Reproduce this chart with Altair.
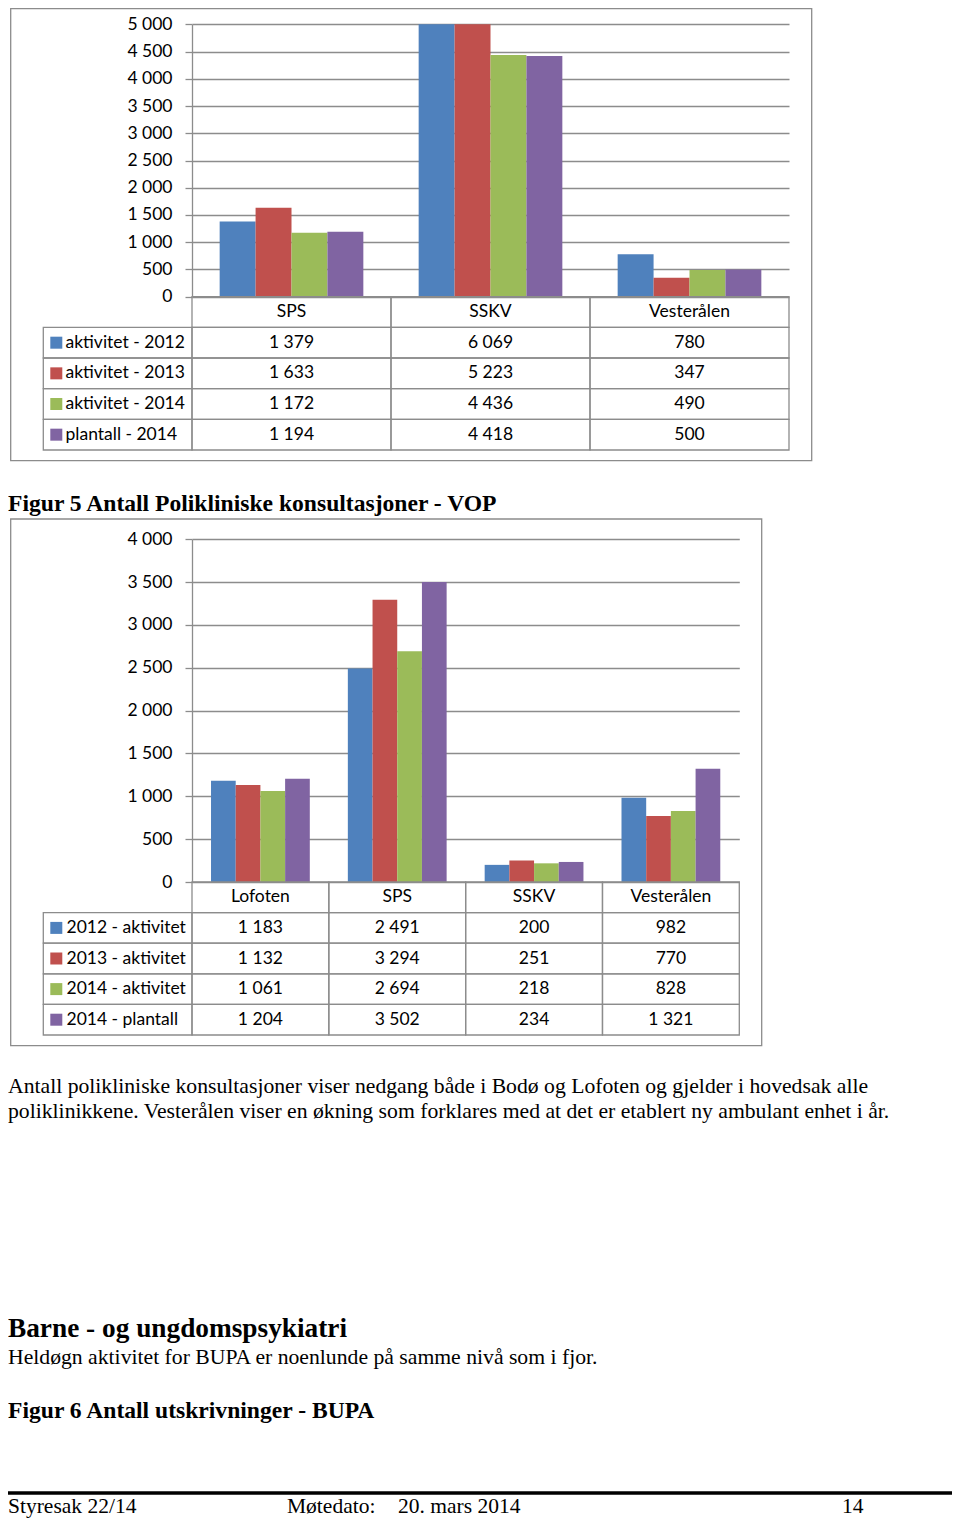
import altair as alt
import pandas as pd

# ---------------- data: top figure ----------------
regions_a = ["SPS", "SSKV", "Vesterålen"]
series_a = ["aktivitet - 2012", "aktivitet - 2013", "aktivitet - 2014", "plantall - 2014"]
a_akt_2012 = [1379, 6069, 780]
a_akt_2013 = [1633, 5223, 347]
a_akt_2014 = [1172, 4436, 490]
a_plan_2014 = [1194, 4418, 500]
yticks_a = [0, 500, 1000, 1500, 2000, 2500, 3000, 3500, 4000, 4500, 5000]

# ---------------- data: Figur 5 ----------------
regions_b = ["Lofoten", "SPS", "SSKV", "Vesterålen"]
series_b = ["2012 - aktivitet", "2013 - aktivitet", "2014 - aktivitet", "2014 - plantall"]
b_akt_2012 = [1183, 2491, 200, 982]
b_akt_2013 = [1132, 3294, 251, 770]
b_akt_2014 = [1061, 2694, 218, 828]
b_plan_2014 = [1204, 3502, 234, 1321]
yticks_b = [0, 500, 1000, 1500, 2000, 2500, 3000, 3500, 4000]

colors = ["#4F81BD", "#C0504D", "#9BBB59", "#8064A2"]

title_fig5 = "Figur 5 Antall Polikliniske konsultasjoner - VOP"
para_lines = [
    "Antall polikliniske konsultasjoner viser nedgang både i Bodø og Lofoten og gjelder i hovedsak alle",
    "poliklinikkene. Vesterålen viser en økning som forklares med at det er etablert ny ambulant enhet i år.",
]
heading_bupa = "Barne - og ungdomspsykiatri"
text_bupa = "Heldøgn aktivitet for BUPA er noenlunde på samme nivå som i fjor."
title_fig6 = "Figur 6 Antall utskrivninger - BUPA"
footer_left = "Styresak 22/14"
footer_mid1 = "Møtedato:"
footer_mid2 = "20. mars 2014"
footer_right = "14"

GRAY = "#8c8c8c"
FONT = "Lato"
FS = 17.5
SERIF = "Liberation Serif"


def fmt(v):
    return f"{v:,}".replace(",", " ")


def figure(regions, series, values, ymax, yticks, g):
    hdr = "__hdr__"
    rows = [hdr] + series
    recs = []
    for s, vals in zip(series, values):
        for r, v in zip(regions, vals):
            recs.append({"region": r, "series": s, "value": v, "row": s, "txt": fmt(v)})
    long = pd.DataFrame(recs)
    head = pd.DataFrame({"region": regions, "row": [hdr] * len(regions), "txt": regions})
    cells = pd.concat([head, long[["region", "row", "txt"]]], ignore_index=True)
    labs = pd.DataFrame({"col": ["label"] * len(series), "row": series, "series": series})

    xs = alt.Scale(domain=regions, range=[g["x0"], g["x1"]], paddingInner=0, paddingOuter=0)
    ys = alt.Scale(domain=[0, ymax], range=[g["y0"], g["y1"]], clamp=True, nice=False, zero=True)
    rs = alt.Scale(domain=rows, range=[g["t0"], g["t1"]], paddingInner=0, paddingOuter=0)
    ls = alt.Scale(domain=["label"], range=[g["l0"], g["x0"]], paddingInner=0, paddingOuter=0)
    sws = alt.Scale(domain=["label"], range=[g["swc"] - 6, g["swc"] + 6], paddingInner=0, paddingOuter=0)
    txs = alt.Scale(domain=["label"], range=[g["txl"] - 1, g["txl"] + 1], paddingInner=0, paddingOuter=0)
    cs = alt.Scale(domain=series, range=colors)

    frame = alt.Chart().mark_rect(filled=False, color=GRAY, strokeWidth=1.3).encode(
        x=alt.value(g["fx0"]), x2=alt.value(g["fx1"]),
        y=alt.value(g["fy0"]), y2=alt.value(g["fy1"]))

    bars = alt.Chart(long).mark_bar().encode(
        x=alt.X("region:N", scale=xs, axis=None),
        xOffset=alt.XOffset("series:N", scale=alt.Scale(domain=series, paddingInner=0, paddingOuter=0.77)),
        y=alt.Y("value:Q", scale=ys, stack=False,
                axis=alt.Axis(orient="left", offset=-g["x0"], values=yticks,
                              labelExpr="replace(format(datum.value, ','), ',', ' ')",
                              grid=True, gridColor=GRAY, gridWidth=1.3,
                              domainColor=GRAY, domainWidth=1.3,
                              tickColor=GRAY, tickWidth=1.3, tickSize=7,
                              labelFont=FONT, labelFontSize=FS, labelColor="black",
                              labelPadding=13, title="")),
        color=alt.Color("series:N", scale=cs, legend=None))

    cell_rects = alt.Chart(cells).mark_rect(filled=False, color=GRAY, strokeWidth=1.3).encode(
        x=alt.X("region:N", scale=xs, axis=None),
        y=alt.Y("row:N", scale=rs, axis=None))
    cell_txt = alt.Chart(cells).mark_text(font=FONT, fontSize=FS, color="black", baseline="middle").encode(
        x=alt.X("region:N", scale=xs, axis=None),
        y=alt.Y("row:N", scale=rs, axis=None),
        text="txt:N")
    lab_rects = alt.Chart(labs).mark_rect(filled=False, color=GRAY, strokeWidth=1.3).encode(
        x=alt.X("col:N", scale=ls, axis=None),
        y=alt.Y("row:N", scale=rs, axis=None))
    swatch = alt.Chart(labs).mark_square(size=144, opacity=1).encode(
        x=alt.X("col:N", scale=sws, axis=None),
        y=alt.Y("row:N", scale=rs, axis=None),
        color=alt.Color("series:N", scale=cs, legend=None))
    lab_txt = alt.Chart(labs).mark_text(font=FONT, fontSize=FS, color="black", align="left", baseline="middle").encode(
        x=alt.X("col:N", scale=txs, axis=None),
        y=alt.Y("row:N", scale=rs, axis=None),
        text="series:N")
    return [frame, bars, cell_rects, cell_txt, lab_rects, swatch, lab_txt]


def text(s, x, y, size, bold=False):
    return alt.Chart().mark_text(
        text=s, align="left", baseline="alphabetic", font=SERIF, fontSize=size,
        fontWeight="bold" if bold else "normal", color="black", lineHeight=25,
    ).encode(x=alt.value(x), y=alt.value(y))


geo_a = dict(x0=184, x1=781, y0=288.7, y1=16.3, t0=288.7, t1=442, l0=35.3,
             fx0=2.7, fx1=803.7, fy0=0.5, fy1=452.7, swc=48.3, txl=57.5)
geo_b = dict(x0=184, x1=731.3, y0=874, y1=531.3, t0=874, t1=1027, l0=35.3,
             fx0=2.7, fx1=753.7, fy0=511, fy1=1037.7, swc=48.3, txl=58.5)

layers = []
layers += figure(regions_a, series_a, [a_akt_2012, a_akt_2013, a_akt_2014, a_plan_2014], 5000, yticks_a, geo_a)
layers += figure(regions_b, series_b, [b_akt_2012, b_akt_2013, b_akt_2014, b_plan_2014], 4000, yticks_b, geo_b)

layers += [
    text(title_fig5, 0, 503, 23.6, bold=True),
    text(para_lines, 0, 1085, 21.7),
    text(heading_bupa, 0, 1329, 27.3, bold=True),
    text(text_bupa, 0, 1356, 21.7),
    text(title_fig6, 0, 1410, 23.6, bold=True),
    alt.Chart().mark_rule(color="black", strokeWidth=3.5).encode(
        x=alt.value(0), x2=alt.value(944), y=alt.value(1485)),
    text(footer_left, 0, 1505, 21.5),
    text(footer_mid1, 279, 1505, 21.5),
    text(footer_mid2, 390, 1505, 21.5),
    text(footer_right, 834, 1505, 21.5),
]

chart = alt.layer(*layers).resolve_scale(
    x="independent", y="independent", color="independent", xOffset="independent"
).resolve_axis(x="independent", y="independent").properties(
    width=944, height=1511, autosize=alt.AutoSizeParams(type="none"), padding=0
).configure_view(strokeWidth=0)

chart.save("out.html", embed_options={"renderer": "svg", "actions": False})
